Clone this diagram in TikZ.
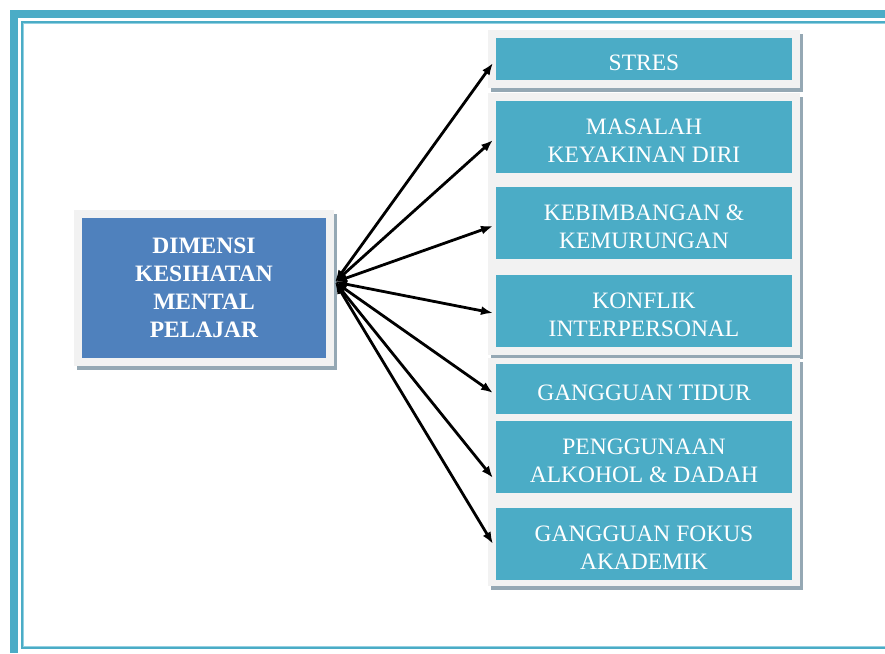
\documentclass[tikz,border=0pt]{standalone}
\usepackage{fontspec}
\setmainfont{Liberation Serif}
\usepackage{tikz}
\usetikzlibrary{arrows.meta, positioning, fit, calc, backgrounds, shadows}
\definecolor{frameteal}{HTML}{4BACC6}
\definecolor{framelight}{HTML}{93D1E2}
\definecolor{boxteal}{HTML}{4BACC6}
\definecolor{dimblue}{HTML}{4F81BD}
\definecolor{panelgray}{HTML}{F2F2F2}
\definecolor{shadowgray}{HTML}{95A8B4}
\tikzset{
  tealbox/.style={fill=boxteal, minimum width=296pt, inner sep=0pt, outer sep=0pt},
  boxtxt/.style={text=white, font=\fontsize{23.5}{28}\selectfont, align=center, yshift=-4pt},
  dimbox/.style={fill=dimblue, minimum width=244pt, minimum height=140pt, inner sep=0pt, outer sep=0pt, text=white, align=center, font=\fontsize{23.5}{28}\selectfont\bfseries},
  panel/.style={fill=panelgray, inner sep=8pt, drop shadow={shadow xshift=3pt, shadow yshift=-4pt, fill=shadowgray, opacity=1}},
  arr/.style={{Latex[length=12pt,width=9pt]}-{Latex[length=12pt,width=9pt]}, line width=2.8pt, black}
}

\begin{document}
\begin{tikzpicture}[x=1pt, y=-1pt]
\useasboundingbox (0,0) rectangle (885,653);

% ===== PAGE FRAME =====
\draw[frameteal, line width=8pt] (14,653) -- (14,14) -- (885,14);
\draw[frameteal, line width=2pt] (885,22) -- (22,22) -- (22,648) -- (885,648);
\draw[framelight, line width=1pt] (885,23.5) -- (23.5,23.5) -- (23.5,646.5) -- (885,646.5);

% ===== MAIN BOX =====
\node[dimbox] (dimensi) at (204,288) {DIMENSI\\KESIHATAN\\MENTAL\\PELAJAR};
\coordinate (hub) at ($(dimensi.east)+(9,-6)$);

% ===== RIGHT COLUMN =====
\node[tealbox, minimum height=42pt, label={[boxtxt]center:STRES}] (stres) at (644,59) {};
\node[tealbox, minimum height=72pt, label={[boxtxt]center:{MASALAH\\KEYAKINAN DIRI}}] (masalah) at (644,137) {};
\node[tealbox, minimum height=72pt, label={[boxtxt]center:{KEBIMBANGAN \&\\KEMURUNGAN}}] (bimbang) at (644,223) {};
\node[tealbox, minimum height=72pt, label={[boxtxt]center:{KONFLIK\\INTERPERSONAL}}] (konflik) at (644,311) {};
\node[tealbox, minimum height=50pt, label={[boxtxt]center:GANGGUAN TIDUR}] (tidur) at (644,389) {};
\node[tealbox, minimum height=72pt, label={[boxtxt]center:{PENGGUNAAN\\ALKOHOL \& DADAH}}] (alkohol) at (644,457) {};
\node[tealbox, minimum height=72pt, label={[boxtxt]center:{GANGGUAN FOKUS\\AKADEMIK}}] (fokus) at (644,544) {};

% ===== PANELS =====
\begin{scope}[on background layer]
  \node[panel, fit=(dimensi)] (dimpanel) {};
  \node[panel, fit=(stres)] (panelA) {};
  \node[panel, fit=(masalah)(konflik)] (panelB) {};
  \node[panel, fit=(tidur)(fokus), inner ysep=6pt] (panelC) {};
\end{scope}

% ===== ARROWS =====
\draw[arr] (hub) -- ($(stres.west)+(-3,4)$);
\draw[arr] (hub) -- ($(masalah.west)+(-3,3)$);
\draw[arr] (hub) -- ($(bimbang.west)+(-3,3)$);
\draw[arr] (hub) -- ($(konflik.west)+(-3,2)$);
\draw[arr] (hub) -- ($(tidur.west)+(-3,4)$);
\draw[arr] (hub) -- ($(alkohol.west)+(-3,21)$);
\draw[arr] (hub) -- ($(fokus.west)+(-3,0)$);

\end{tikzpicture}
\end{document}
